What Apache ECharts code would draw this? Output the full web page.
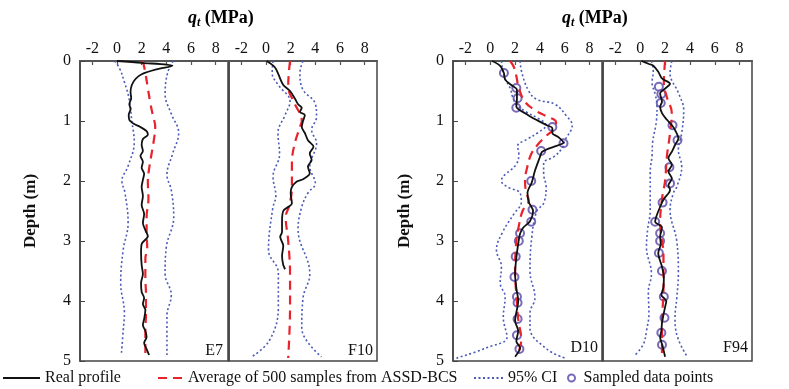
<!DOCTYPE html>
<html><head><meta charset="utf-8">
<script src="https://cdn.jsdelivr.net/npm/echarts@6/dist/echarts.min.js"></script>
<style>html,body{margin:0;padding:0;background:#fff}#c{width:789px;height:389px}</style>
</head><body><div id="c"></div>
<script>
// q_t (MPa) tick labels and depth ticks
const xTicks = [-2, 0, 2, 4, 6, 8];
const panelNames = ['E7', 'F10', 'D10', 'F94'];
// each series: [q_t (MPa), depth (m)]
const e7Real = [[0.0,0.00],[2.0,0.03],[4.5,0.08],[3.2,0.14],[2.0,0.22],[1.5,0.30],[1.2,0.40],[1.1,0.52],[1.15,0.62],[1.0,0.72],[1.1,0.80],[0.95,0.90],[1.0,0.98],[1.4,1.05],[1.9,1.10],[2.4,1.17],[2.5,1.23],[2.1,1.30],[2.0,1.40],[2.1,1.50],[1.9,1.58],[2.1,1.68],[2.0,1.78],[2.2,1.88],[2.1,1.98],[2.0,2.10],[2.1,2.25],[2.0,2.40],[2.2,2.55],[2.1,2.70],[2.3,2.82],[2.5,2.92],[2.0,3.05],[1.95,3.20],[2.0,3.40],[2.1,3.55],[1.95,3.70],[2.0,3.85],[2.2,3.95],[2.1,4.05],[2.3,4.15],[2.2,4.30],[2.1,4.40],[2.3,4.50],[2.4,4.60],[2.2,4.70],[2.4,4.80],[2.6,4.90]];
const e7Avg = [[2.1,0],[2.3,0.2],[2.5,0.45],[2.7,0.7],[2.9,0.9],[3.1,1.1],[3.0,1.3],[2.8,1.55],[2.6,1.8],[2.5,2.0],[2.55,2.3],[2.4,2.6],[2.4,2.9],[2.45,3.1],[2.3,3.3],[2.3,3.6],[2.35,3.9],[2.35,4.2],[2.3,4.5],[2.3,4.9]];
const e7Lo = [[-0.2,0],[0.2,0.12],[0.6,0.35],[1.0,0.65],[1.2,1.0],[1.4,1.35],[0.9,1.75],[0.4,2.0],[0.65,2.2],[0.9,2.7],[0.5,3.15],[0.3,3.7],[0.6,4.2],[0.5,4.5],[0.35,4.9]];
const e7Hi = [[4.55,0],[4.1,0.2],[3.9,0.55],[4.4,0.88],[5.0,1.2],[4.5,1.55],[4.05,1.9],[4.4,2.15],[4.6,2.6],[4.0,3.1],[3.9,3.55],[4.4,3.9],[4.05,4.25],[4.05,4.9]];

const f10Real = [[0.05,0],[0.7,0.1],[1.0,0.22],[1.4,0.4],[1.95,0.5],[2.35,0.63],[2.6,0.72],[2.9,0.78],[2.75,0.85],[3.15,0.9],[3.0,1.0],[2.9,1.1],[3.15,1.2],[3.4,1.32],[3.85,1.43],[3.55,1.54],[3.7,1.65],[3.4,1.76],[3.55,1.87],[3.0,1.97],[2.5,2.01],[2.1,2.1],[2.0,2.2],[2.1,2.37],[1.4,2.5],[1.3,2.68],[1.3,2.85],[1.15,2.93],[1.4,3.08],[1.3,3.25],[1.4,3.4],[1.55,3.47]];
const f10Avg = [[1.95,0],[1.85,0.2],[1.8,0.43],[2.3,0.7],[2.9,1.0],[2.75,1.1],[2.3,1.4],[2.1,1.7],[2.1,2.1],[1.9,2.4],[1.6,2.6],[1.8,3.0],[1.95,3.55],[1.95,4.1],[1.8,4.95]];
const f10Lo = [[0.57,0],[0.5,0.2],[1.0,0.4],[1.95,0.67],[1.55,0.9],[0.97,1.2],[1.1,1.55],[0.57,1.93],[0.8,2.25],[0.55,2.45],[0.2,3.15],[1.0,3.53],[1.0,4.1],[0.3,4.65],[-1.15,4.93]];
const f10Hi = [[3.0,0],[2.75,0.2],[3.0,0.48],[3.97,0.7],[4.1,0.93],[3.7,1.15],[4.1,1.37],[3.55,1.76],[4.0,2.04],[3.4,2.2],[2.9,2.43],[2.6,2.8],[3.55,3.55],[3.0,3.95],[2.9,4.45],[4.5,4.93]];

const d10Real = [[0.15,0],[0.8,0.08],[1.1,0.2],[1.2,0.31],[1.7,0.4],[2.15,0.48],[2.15,0.62],[2.1,0.76],[2.8,0.87],[3.7,0.98],[4.55,1.07],[5.0,1.12],[5.0,1.2],[5.5,1.27],[5.9,1.36],[5.1,1.43],[4.5,1.48],[4.15,1.52],[4.0,1.6],[3.6,1.83],[3.35,2.02],[3.0,2.2],[3.1,2.35],[3.45,2.5],[3.2,2.67],[2.65,2.78],[2.4,2.88],[2.25,3.05],[2.1,3.28],[2.0,3.55],[2.1,3.78],[2.25,4.0],[2.0,4.33],[2.25,4.5],[2.1,4.67],[2.4,4.78],[2.0,4.93]];
const d10Avg = [[1.6,0],[1.9,0.1],[2.1,0.25],[2.3,0.45],[2.8,0.68],[3.6,0.82],[4.5,0.92],[5.3,1.02],[5.2,1.12],[4.5,1.25],[3.8,1.4],[3.3,1.55],[3.0,1.75],[2.8,2.0],[2.9,2.2],[3.1,2.32],[2.6,2.5],[2.3,2.75],[2.1,3.0],[2.0,3.5],[2.1,3.9],[2.25,4.3],[2.5,4.65],[2.2,4.9]];
const d10Lo = [[0.9,0],[1.0,0.15],[1.2,0.3],[1.6,0.45],[1.8,0.6],[2.1,0.72],[2.9,0.85],[3.8,0.95],[4.5,1.07],[3.8,1.2],[3.0,1.3],[2.2,1.42],[2.3,1.55],[2.1,1.72],[0.9,2.0],[1.4,2.1],[2.4,2.2],[2.5,2.35],[1.9,2.55],[1.0,2.85],[0.5,3.15],[0.9,3.43],[0.8,3.7],[1.2,3.93],[1.05,4.27],[1.35,4.6],[-0.3,4.78],[-3.0,4.97]];
const d10Hi = [[2.4,0],[2.55,0.2],[3.1,0.5],[3.75,0.64],[5.2,0.72],[6.2,0.93],[6.6,1.07],[6.0,1.33],[5.8,1.45],[5.1,1.6],[4.3,1.7],[4.3,1.88],[4.5,2.1],[4.3,2.37],[3.75,2.5],[3.35,2.93],[3.2,3.5],[3.6,3.95],[3.2,4.2],[3.2,4.45],[4.55,4.8],[6.0,4.95]];
const d10Pts = [[1.1,0.2],[2.1,0.45],[2.2,0.62],[2.1,0.78],[5.0,1.1],[5.9,1.37],[4.1,1.5],[3.3,2.0],[3.4,2.48],[3.3,2.68],[2.4,2.87],[2.3,3.0],[2.05,3.26],[1.95,3.6],[2.15,3.93],[2.2,4.03],[2.2,4.3],[2.15,4.57],[2.35,4.8]];

const f94Real = [[0.1,0],[0.7,0.05],[1.05,0.08],[1.45,0.18],[1.75,0.29],[2.4,0.38],[2.0,0.46],[1.6,0.54],[1.75,0.68],[1.6,0.76],[1.75,0.87],[2.15,0.98],[2.55,1.07],[2.8,1.15],[3.07,1.29],[2.8,1.4],[2.55,1.51],[2.27,1.62],[2.55,1.73],[2.27,1.84],[2.55,1.96],[2.27,2.07],[2.4,2.15],[1.9,2.3],[1.6,2.43],[1.2,2.68],[1.75,2.77],[1.6,2.93],[1.65,3.05],[1.45,3.2],[1.75,3.43],[1.9,3.6],[1.87,3.77],[1.7,3.9],[2.1,4.0],[2.0,4.1],[1.85,4.25],[1.75,4.37],[1.7,4.5],[1.6,4.6],[1.8,4.75],[2.0,4.93]];
const f94Avg = [[2.0,0],[1.9,0.37],[2.14,0.6],[2.54,0.87],[2.4,1.2],[2.14,1.6],[2.0,2.0],[1.75,2.3],[1.6,2.7],[1.87,3.25],[1.87,3.8],[1.75,4.37],[1.75,4.95]];
const f94Lo = [[0.9,0],[1.05,0.17],[0.95,0.36],[1.2,0.55],[1.35,0.75],[1.3,1.0],[1.0,1.35],[0.95,1.58],[0.8,1.86],[0.8,2.15],[0.8,2.5],[0.6,2.8],[0.5,3.1],[0.9,3.55],[0.65,3.85],[0.7,4.2],[0.5,4.5],[0.25,4.72],[-0.4,4.9]];
const f94Hi = [[2.54,0],[2.4,0.2],[3.07,0.53],[3.5,0.82],[3.34,1.2],[3.07,1.48],[3.34,1.76],[2.94,2.1],[2.67,2.2],[2.4,2.48],[2.94,3.0],[3.07,3.55],[2.94,3.95],[2.8,4.28],[3.0,4.6],[3.75,4.92]];
const f94Pts = [[1.5,0.43],[1.7,0.55],[1.65,0.7],[2.6,1.07],[3.0,1.32],[2.35,1.77],[2.4,2.04],[1.8,2.36],[1.2,2.68],[1.6,2.87],[1.6,3.0],[1.5,3.2],[1.75,3.5],[1.9,3.93],[1.95,4.28],[1.7,4.53],[1.75,4.73]];

const FONT = 'Liberation Serif';
const NAMES = {real:'Real profile', avg:'Average of 500 samples from ASSD-BCS', ci:'95% CI', pts:'Sampled data points'};
const COL = {real:'#111111', avg:'#e8232c', ci:'#4a5ab8', pts:'#5b52b0'};
const panels = [
  {real:e7Real, avg:e7Avg, lo:e7Lo, hi:e7Hi, pts:null},
  {real:f10Real, avg:f10Avg, lo:f10Lo, hi:f10Hi, pts:null},
  {real:d10Real, avg:d10Avg, lo:d10Lo, hi:d10Hi, pts:d10Pts},
  {real:f94Real, avg:f94Avg, lo:f94Lo, hi:f94Hi, pts:f94Pts}
];
const gridPos = [
  {left:80, top:61, width:148, height:300},
  {left:229, top:61, width:148, height:300},
  {left:453, top:61, width:149, height:300},
  {left:603, top:61, width:149, height:300}
];
const grids = gridPos.map(g => Object.assign({show:true, borderColor:'#444', borderWidth:1.5, backgroundColor:'transparent', outerBoundsMode:'none', containLabel:false}, g));
const xAxes = gridPos.map((g,i) => ({
  gridIndex:i, type:'value', position:'top', min:-3, max:9,
  axisLine:{show:true, onZero:false, lineStyle:{color:'#555', width:2}},
  axisTick:{show:true, inside:true, length:4, customValues:xTicks, lineStyle:{color:'#555', width:1.2}},
  axisLabel:{show:true, customValues:xTicks, margin:4, fontSize:16, fontFamily:FONT, color:'#111'},
  splitLine:{show:false}
}));
const yAxes = gridPos.map((g,i) => {
  const lbl = (i === 0 || i === 2);
  return {
    gridIndex:i, type:'value', inverse:true, min:0, max:5, interval:1,
    axisLine:{show:true, onZero:false, lineStyle:{color:'#444', width:1.5}},
    axisTick:{show:lbl, inside:true, length:5, lineStyle:{color:'#444'}},
    axisLabel:{show:lbl, margin:9, fontSize:16, fontFamily:FONT, color:'#111'},
    splitLine:{show:false}
  };
});
const series = [];
panels.forEach((p,i) => {
  const base = {type:'line', xAxisIndex:i, yAxisIndex:i, symbol:'none', showSymbol:false, animation:false, silent:true};
  series.push(Object.assign({}, base, {name:NAMES.ci, data:p.lo, smooth:0.4, itemStyle:{color:COL.ci}, lineStyle:{color:COL.ci, width:1.6, type:[2,2.5]}}));
  series.push(Object.assign({}, base, {name:NAMES.ci, data:p.hi, smooth:0.4, itemStyle:{color:COL.ci}, lineStyle:{color:COL.ci, width:1.6, type:[2,2.5]}}));
  series.push(Object.assign({}, base, {name:NAMES.avg, data:p.avg, smooth:0.4, itemStyle:{color:COL.avg}, lineStyle:{color:COL.avg, width:2.2, type:[9,6]}}));
  series.push(Object.assign({}, base, {name:NAMES.real, data:p.real, smooth:0.3, itemStyle:{color:COL.real}, lineStyle:{color:COL.real, width:1.8}}));
  if (p.pts) {
    series.push({type:'scatter', name:NAMES.pts, xAxisIndex:i, yAxisIndex:i, data:p.pts, symbol:'emptyCircle', symbolSize:8, animation:false, silent:true,
      itemStyle:{color:'#6a5ab0', borderColor:COL.pts, borderWidth:1.2, opacity:0.9}});
  }
});
const legTxt = {fontSize:16, fontFamily:FONT, color:'#111'};
const lineLegend = (left, w, name) => ({left:left, top:370, padding:0, itemWidth:w, itemHeight:10, data:[name], textStyle:legTxt, selectedMode:false, itemStyle:{opacity:0}});
const legends = [
  lineLegend(2, 37, NAMES.real),
  lineLegend(157, 25, NAMES.avg),
  lineLegend(473, 29, NAMES.ci),
  {left:567, top:370, padding:0, itemWidth:14, itemHeight:7, data:[{name:NAMES.pts, icon:'emptyCircle'}], textStyle:legTxt, selectedMode:false}
];
const titleRich = {
  q:{fontFamily:FONT, fontWeight:'bold', fontStyle:'italic', fontSize:18, color:'#111'},
  t:{fontFamily:FONT, fontWeight:'bold', fontStyle:'italic', fontSize:12, color:'#111', padding:[9,0,0,0]},
  n:{fontFamily:FONT, fontWeight:'bold', fontSize:18, color:'#111'}
};
const graphics = [];
[226, 600].forEach(cx => {
  graphics.push({type:'text', left:cx - 38, top:9, style:{text:'{q|q}{t|t}{n| (MPa)}', rich:titleRich}});
});
[31, 405].forEach(cx => {
  graphics.push({type:'text', x:cx, y:211, rotation:Math.PI/2, style:{text:'Depth (m)', font:'bold 17px "Liberation Serif"', fill:'#111', align:'center', verticalAlign:'middle'}});
});
const labelPos = [[223,351],[373,351],[598,348],[748,348]];
panelNames.forEach((n,i) => {
  graphics.push({type:'text', x:labelPos[i][0], y:labelPos[i][1], style:{text:n, font:'16px "Liberation Serif"', fill:'#111', align:'right', verticalAlign:'middle'}});
});
const chart = echarts.init(document.getElementById('c'), null, {renderer:'canvas'});
chart.setOption({
  animation:false,
  backgroundColor:'#fff',
  grid:grids, xAxis:xAxes, yAxis:yAxes, series:series, legend:legends, graphic:graphics
});
</script></body></html>
